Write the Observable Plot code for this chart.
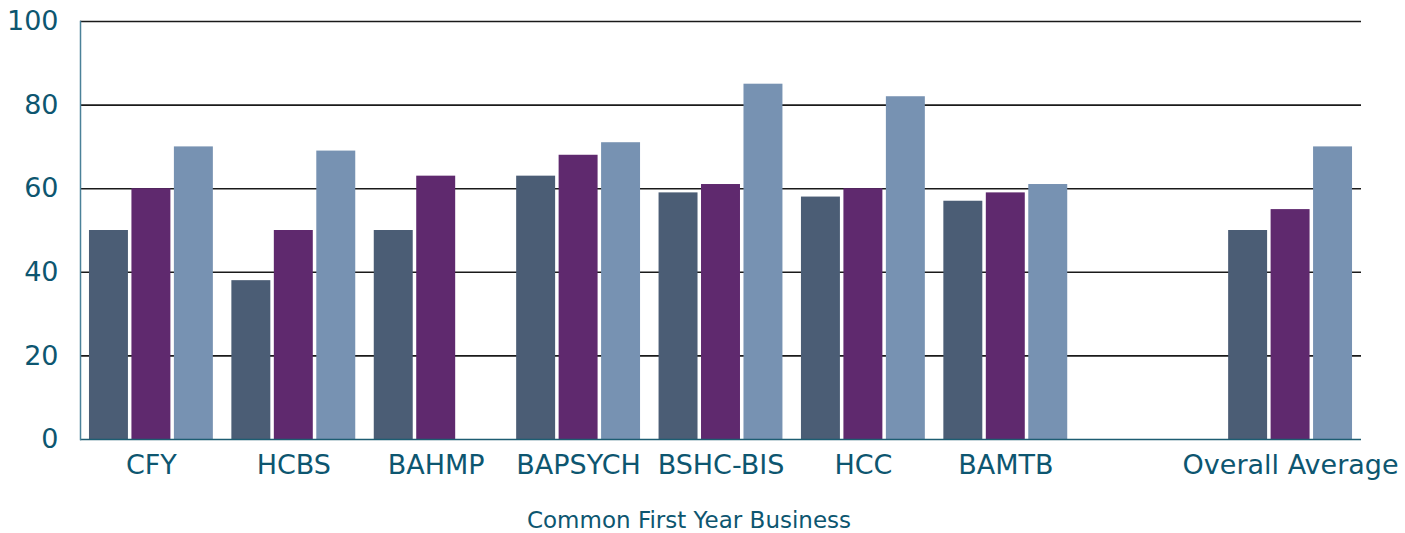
<!DOCTYPE html>
<html>
<head>
<meta charset="utf-8">
<script src="https://cdn.jsdelivr.net/npm/d3@7"></script>
<script src="https://cdn.jsdelivr.net/npm/@observablehq/plot@0.6"></script>
<style>
  html, body { margin: 0; padding: 0; background: #fff; }
</style>
</head>
<body>
<div id="chart"></div>
<script>
const categories = ["CFY", "HCBS", "BAHMP", "BAPSYCH", "BSHC-BIS", "HCC", "BAMTB", " ", "Overall Average"];
const seriesNames = ["Series 1", "Series 2", "Series 3"];
const series1 = [50, 38, 50, 63, 59, 58, 57, null, 50];
const series2 = [60, 50, 63, 68, 61, 60, 59, null, 55];
const series3 = [70, 69, null, 71, 85, 82, 61, null, 70];
const yTicks = [0, 20, 40, 60, 80, 100];
const gridValues = [20, 40, 60, 80, 100];
const colors = ["#4b5d75", "#5f296e", "#7792b2"];
const axisTitle = "Common First Year Business";

const allSeries = [series1, series2, series3];
const textColor = "#0d5670";

// layout (styling only)
const W = 1405, H = 533, mL = 80, mR = 44, mT = 21, mB = 94;
const padInner = 0.13, padOuter = 0.063;
const step = (W - mL - mR) / (categories.length - padInner + 2 * padOuter);
const band = step * (1 - padInner);
const subGap = 3.5;
const barW = (band - 2 * subGap) / 3;

const barMarks = allSeries.map((s, j) => {
  const rows = categories.map((c, i) => ({cat: c, value: s[i]})).filter(d => d.value != null);
  const left = j * (barW + subGap);
  return Plot.barY(rows, {
    x: "cat", y: "value", fill: colors[j],
    insetLeft: left, insetRight: band - left - barW
  });
});

const chart = Plot.plot({
  width: W,
  height: H,
  marginLeft: mL,
  marginRight: mR,
  marginTop: mT,
  marginBottom: mB,
  style: {fontFamily: "DejaVu Sans", fontSize: "27px", color: textColor, background: "#fff"},
  x: {domain: categories, paddingInner: padInner, paddingOuter: padOuter, round: false, label: null, tickSize: 0, tickPadding: 15},
  y: {domain: [0, 100], ticks: yTicks, tickSize: 0, tickPadding: 22, label: null},
  marks: [
    Plot.ruleY(gridValues, {stroke: "#1a1a1a", strokeWidth: 1.6}),
    ...barMarks,
    Plot.ruleY([0], {stroke: "#1d5d72", strokeWidth: 1.5}),
    Plot.frame({anchor: "left", stroke: "#4a8199", strokeWidth: 1.5}),
    Plot.text([axisTitle], {frameAnchor: "bottom", lineAnchor: "middle", dy: 81, dx: -32, fontSize: 23, fill: textColor})
  ]
});
document.getElementById("chart").appendChild(chart);
</script>
</body>
</html>
